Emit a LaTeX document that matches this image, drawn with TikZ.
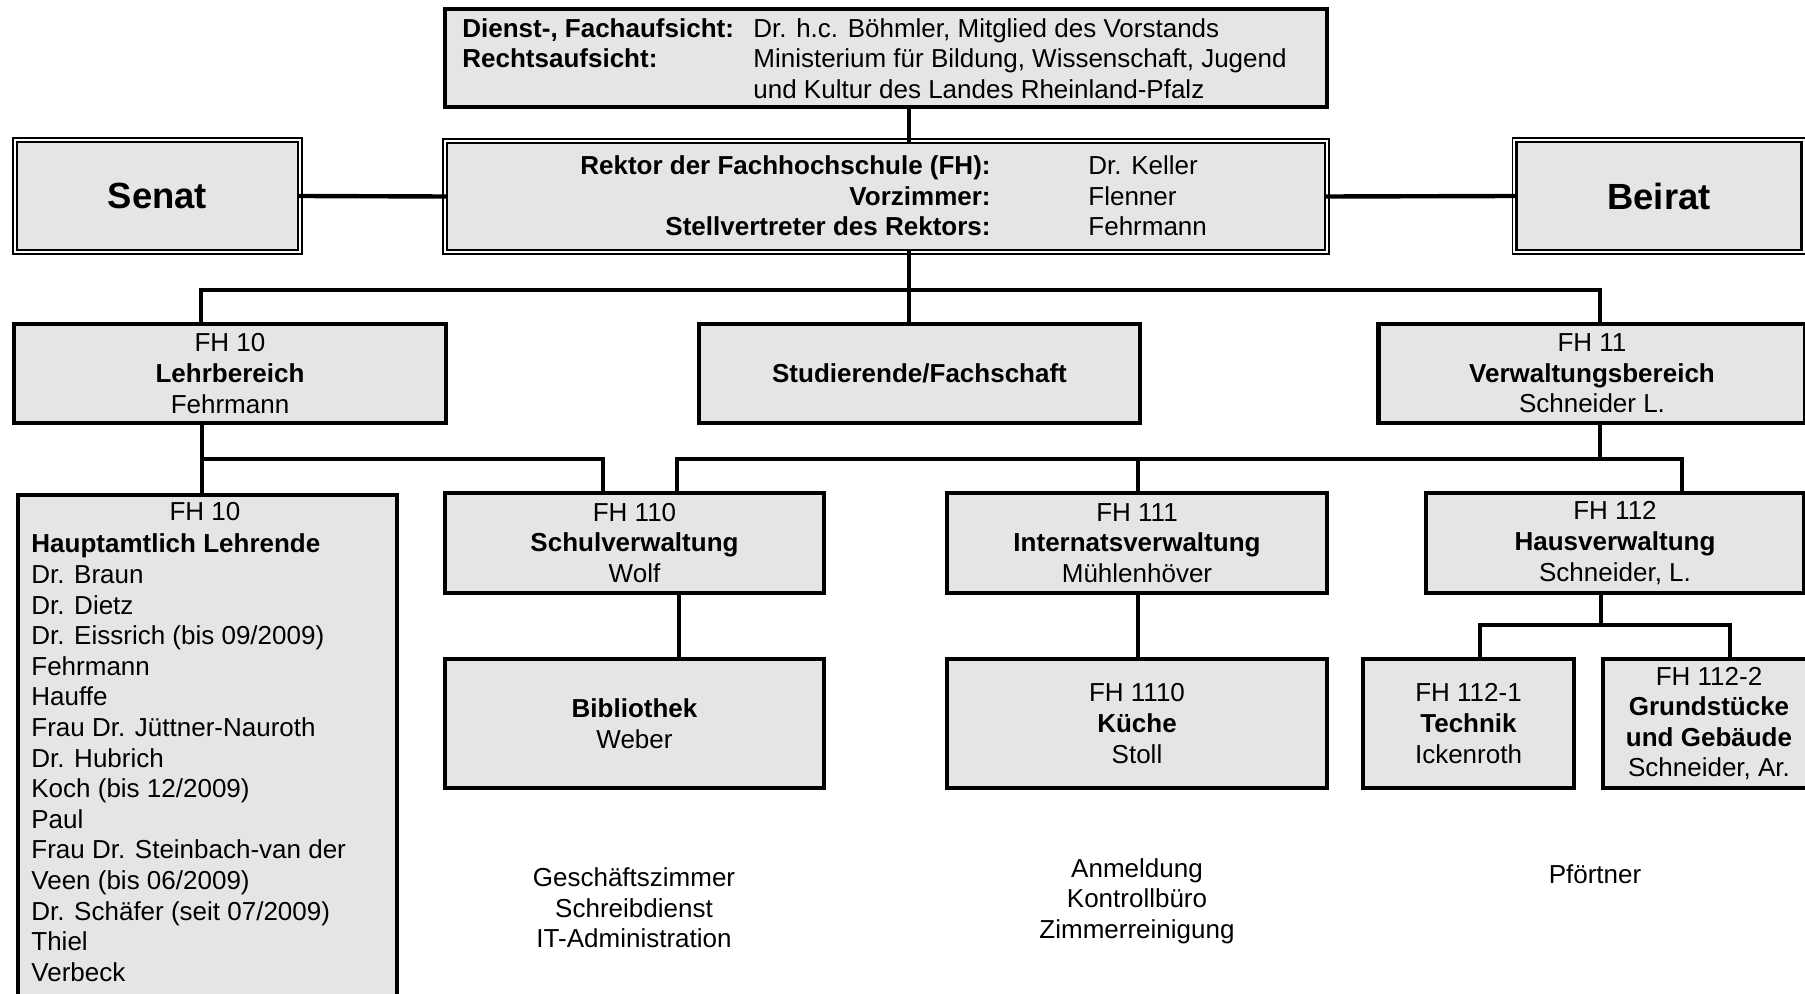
\documentclass[tikz,border=0pt]{standalone}
\usepackage{fontspec}
\setmainfont{Liberation Sans}
\definecolor{boxgray}{RGB}{229,229,229}
\begin{document}
\begin{tikzpicture}[x=0.5pt,y=-0.5pt,
  every node/.style={font=\fontsize{13}{15.3}\selectfont, inner sep=0pt},
  box/.style={draw, fill=boxgray, line width=2.2pt, align=center},
  dbox/.style={draw, fill=boxgray, line width=1.2pt, align=center},
  outerframe/.style={line width=0.6pt},
  link/.style={line width=2.2pt},
  plain/.style={align=center},
  bigfont/.style={font=\fontsize{18.2}{21}\selectfont\bfseries}]
\useasboundingbox (0,0) rectangle (1805,994);

% top level
\node[box, minimum width=441pt, minimum height=49pt] (aufsicht) at (886,58) {};
\node[anchor=west] (aufsichttext) at (462,61.5) {\begin{tabular}{@{}p{145.5pt}@{}l@{}}
\textbf{Dienst-, Fachaufsicht:} & Dr. h.c. Böhmler, Mitglied des Vorstands\\
\textbf{Rechtsaufsicht:} & Ministerium für Bildung, Wissenschaft, Jugend\\
 & und Kultur des Landes Rheinland-Pfalz\end{tabular}};

\node[dbox, minimum width=439pt, minimum height=53.5pt] (rektor) at (886,196.5) {};
\node[anchor=east] (rektorlabels) at (991,199) {\begin{tabular}{@{}r@{}}
\textbf{Rektor der Fachhochschule (FH):}\\
\textbf{Vorzimmer:}\\
\textbf{Stellvertreter des Rektors:}\end{tabular}};
\node[anchor=west] (rektornames) at (1088,199) {\begin{tabular}{@{}l@{}}
Dr. Keller\\ Flenner\\ Fehrmann\end{tabular}};

\node[dbox, bigfont, minimum width=140.5pt, minimum height=54pt] (senat) at (157.5,196) {Senat};
\node[dbox, bigfont, minimum width=142.5pt, minimum height=54pt] (beirat) at (1659,196) {Beirat};

\foreach \n in {rektor,senat,beirat}{
  \draw[outerframe] ([shift={(-1.4pt,1.4pt)}]\n.north west) rectangle ([shift={(1.4pt,-1.4pt)}]\n.south east);
}

% second level
\node[box, minimum width=216pt, minimum height=49.5pt] (fh10) at (230,373.5) {FH 10\\\textbf{Lehrbereich}\\Fehrmann};
\node[box, minimum width=220.5pt, minimum height=49.5pt] (stud) at (919.5,373.5) {\textbf{Studierende/Fachschaft}};
\node[box, minimum width=213.5pt, minimum height=49.5pt] (fh11) at (1592,373.5) {FH 11\\\textbf{Verwaltungsbereich}\\Schneider L.};

% third level
\node[box, minimum width=189.5pt, minimum height=262pt, anchor=north west] (liste) at (16,493) {};
\node (listekopf) at (205,512) {FH 10};
\node[anchor=north west] (listetext) at (31,531) {\begin{tabular}{@{}l@{}}
\textbf{Hauptamtlich Lehrende}\\
Dr. Braun\\
Dr. Dietz\\
Dr. Eissrich (bis 09/2009)\\
Fehrmann\\
Hauffe\\
Frau Dr. Jüttner-Nauroth\\
Dr. Hubrich\\
Koch (bis 12/2009)\\
Paul\\
Frau Dr. Steinbach-van der\\
Veen (bis 06/2009)\\
Dr. Schäfer (seit 07/2009)\\
Thiel\\
Verbeck\end{tabular}};

\node[box, minimum width=189.5pt, minimum height=50pt] (fh110) at (634.5,543) {FH 110\\\textbf{Schulverwaltung}\\Wolf};
\node[box, minimum width=190pt, minimum height=50pt] (fh111) at (1137,543) {FH 111\\\textbf{Internatsverwaltung}\\Mühlenhöver};
\node[box, minimum width=189pt, minimum height=50pt] (fh112) at (1615,543) {FH 112\\\textbf{Hausverwaltung}\\Schneider, L.};

% fourth level
\node[box, minimum width=189.5pt, minimum height=64.5pt] (bib) at (634.5,723.5) {\textbf{Bibliothek}\\Weber};
\node[box, minimum width=190pt, minimum height=64.5pt] (kueche) at (1137,723.5) {FH 1110\\\textbf{Küche}\\Stoll};
\node[box, minimum width=105.5pt, minimum height=64.5pt] (fh1121) at (1468.5,723.5) {FH 112-1\\\textbf{Technik}\\Ickenroth};
\node[box, minimum width=106pt, minimum height=64.5pt] (fh1122) at (1709,723.5) {FH 112-2\\\textbf{Grundstücke}\\\textbf{und Gebäude}\\Schneider, Ar.};

% free texts
\node[plain] (gz) at (634,908) {Geschäftszimmer\\Schreibdienst\\IT-Administration};
\node[plain] (anm) at (1137,901) {Anmeldung\\Kontrollbüro\\Zimmerreinigung};
\node[plain] (pf) at (1595,874) {Pförtner};

% connector coordinates
\coordinate (axis) at (909,0);
\coordinate (busL) at (201,290);
\coordinate (busR) at (1600,290);
\coordinate (jL) at (202,459);
\coordinate (jL2) at (603,459);
\coordinate (jR) at (1600,459);
\coordinate (jA) at (677,459);
\coordinate (jB) at (1138,459);
\coordinate (jC) at (1682,459);
\coordinate (vB) at (679,0);
\coordinate (jH) at (1601,625);
\coordinate (jH1) at (1480,625);
\coordinate (jH2) at (1730,625);

% connectors
\draw[link] (aufsicht.south -| axis) -- (rektor.north -| axis);
\draw[link] (senat.east) -- (rektor.west);
\draw[link] (rektor.east) -- (beirat.west);
\draw[link] (rektor.south -| axis) -- (stud.north -| axis);
\draw[link] (fh10.north -| busL) -- (busL) -- (busR) -- (fh11.north -| busR);

\draw[link] (fh10.south -| jL) -- (liste.north -| jL);
\draw[link] (jL) -- (jL2) -- (fh110.north -| jL2);

\draw[link] (fh11.south -| jR) -- (jR);
\draw[link] (fh110.north -| jA) -- (jA) -- (jC) -- (fh112.north -| jC);
\draw[link] (jB) -- (fh111.north -| jB);

\draw[link] (fh110.south -| vB) -- (bib.north -| vB);
\draw[link] (fh111.south -| jB) -- (kueche.north -| jB);

\draw[link] (fh112.south -| jH) -- (jH);
\draw[link] (fh1121.north -| jH1) -- (jH1) -- (jH2) -- (fh1122.north -| jH2);
\end{tikzpicture}
\end{document}
